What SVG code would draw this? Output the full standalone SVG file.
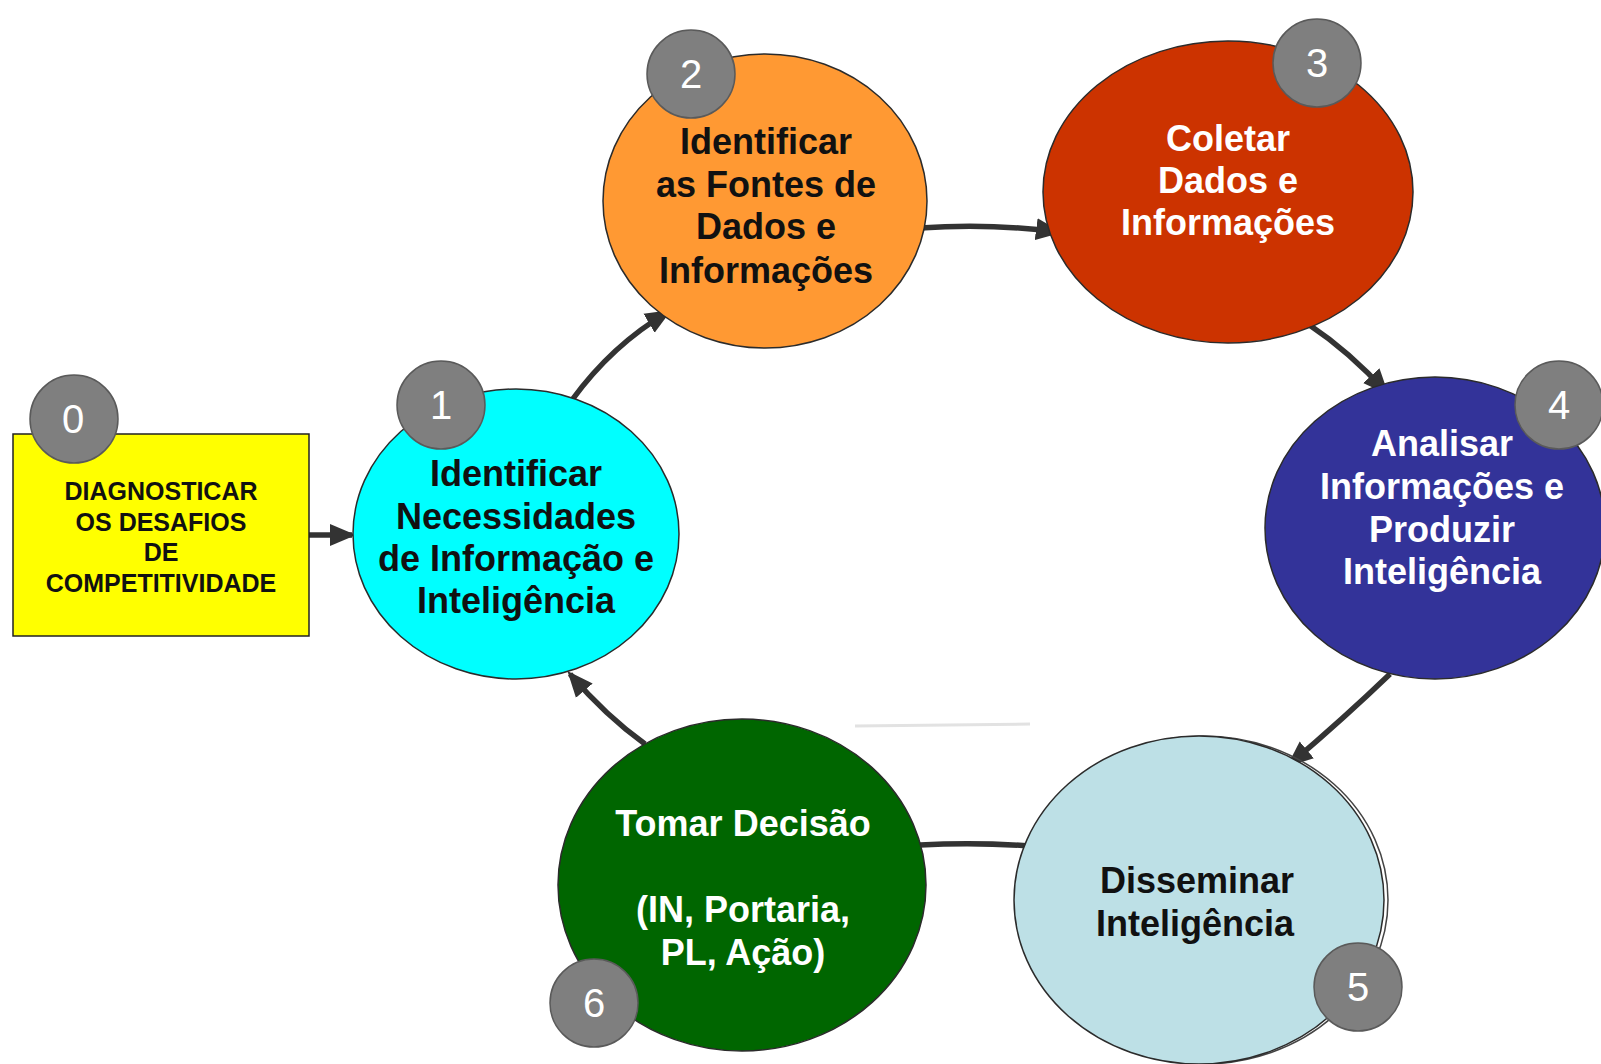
<svg xmlns="http://www.w3.org/2000/svg" width="1601" height="1064" viewBox="0 0 1601 1064">
<style>
.node{stroke:#2b2b2b;stroke-width:1.5}
.badge circle{fill:#7f7f7f;stroke:#5a5a5a;stroke-width:1.5}
.badge text{font-family:"Liberation Sans",Arial,sans-serif;font-size:40px;fill:#ffffff;text-anchor:middle}
.lbl{font-family:"Liberation Sans",Arial,sans-serif;font-weight:bold;font-size:36px;text-anchor:middle}
.box{font-family:"Liberation Sans",Arial,sans-serif;font-weight:bold;font-size:25px;text-anchor:middle;fill:#111}
.con{fill:none;stroke:#333333;stroke-width:5.5}
</style>
<defs>
<marker id="ah" markerUnits="userSpaceOnUse" markerWidth="30" markerHeight="26" refX="22" refY="13" orient="auto">
<path d="M0,2 L26,13 L0,24 Z" fill="#333333"/>
</marker>
</defs>
<rect width="1601" height="1064" fill="#ffffff"/>
<g id="connectors">
<path class="con" d="M309,535 L352,535" marker-end="url(#ah)"/>
<path class="con" d="M572,400 Q612,345 668,312" marker-end="url(#ah)"/>
<path class="con" d="M920,228 Q990,223 1058,232" marker-end="url(#ah)"/>
<path class="con" d="M1308,324 Q1350,352 1386,392" marker-end="url(#ah)"/>
<path class="con" d="M1390,674 Q1342,720 1290,764" marker-end="url(#ah)"/>
<path class="con" d="M1030,846 Q975,842 920,845"/>
<path class="con" d="M645,744 Q606,716 570,674" marker-end="url(#ah)"/>
<path d="M855,726 L1030,724" stroke="#e2e2e2" stroke-width="3" fill="none"/>
</g>
<g id="node0">
<rect x="13" y="434" width="296" height="202" fill="#ffff00" stroke="#222" stroke-width="1.5"/>
<text class="box" x="161" y="500">DIAGNOSTICAR</text>
<text class="box" x="161" y="531">OS DESAFIOS</text>
<text class="box" x="161" y="561">DE</text>
<text class="box" x="161" y="592">COMPETITIVIDADE</text>
<g class="badge"><circle cx="74" cy="419" r="44"/><text x="73" y="433">0</text></g>
</g>
<g id="node1">
<ellipse class="node" cx="516" cy="534" rx="163" ry="145" fill="#00ffff"/>
<text class="lbl" x="516" y="486" fill="#111">Identificar</text>
<text class="lbl" x="516" y="529" fill="#111">Necessidades</text>
<text class="lbl" x="516" y="571" fill="#111">de Informação e</text>
<text class="lbl" x="516" y="613" fill="#111">Inteligência</text>
<g class="badge"><circle cx="441" cy="405" r="44"/><text x="441" y="419">1</text></g>
</g>
<g id="node2">
<ellipse class="node" cx="765" cy="201" rx="162" ry="147" fill="#ff9933"/>
<text class="lbl" x="766" y="154" fill="#111">Identificar</text>
<text class="lbl" x="766" y="197" fill="#111">as Fontes de</text>
<text class="lbl" x="766" y="239" fill="#111">Dados e</text>
<text class="lbl" x="766" y="283" fill="#111">Informações</text>
<g class="badge"><circle cx="691" cy="74" r="44"/><text x="691" y="88">2</text></g>
</g>
<g id="node3">
<ellipse class="node" cx="1228" cy="192" rx="185" ry="151" fill="#cc3300"/>
<text class="lbl" x="1228" y="151" fill="#ffffff">Coletar</text>
<text class="lbl" x="1228" y="193" fill="#ffffff">Dados e</text>
<text class="lbl" x="1228" y="235" fill="#ffffff">Informações</text>
<g class="badge"><circle cx="1317" cy="63" r="44"/><text x="1317" y="77">3</text></g>
</g>
<g id="node4">
<ellipse class="node" cx="1435" cy="528" rx="170" ry="151" fill="#333399"/>
<text class="lbl" x="1442" y="456" fill="#ffffff">Analisar</text>
<text class="lbl" x="1442" y="499" fill="#ffffff">Informações e</text>
<text class="lbl" x="1442" y="542" fill="#ffffff">Produzir</text>
<text class="lbl" x="1442" y="584" fill="#ffffff">Inteligência</text>
<g class="badge"><circle cx="1559" cy="405" r="44"/><text x="1559" y="419">4</text></g>
</g>
<g id="node5">
<ellipse cx="1203" cy="900" rx="185" ry="164" fill="none" stroke="#444" stroke-width="1.5"/>
<ellipse class="node" cx="1199" cy="900" rx="185" ry="164" fill="#bde0e6"/>
<text class="lbl" x="1197" y="893" fill="#111">Disseminar</text>
<text class="lbl" x="1195" y="936" fill="#111">Inteligência</text>
<g class="badge"><circle cx="1358" cy="987" r="44"/><text x="1358" y="1001">5</text></g>
</g>
<g id="node6">
<ellipse class="node" cx="742" cy="885" rx="184" ry="166" fill="#006600"/>
<text class="lbl" x="743" y="836" fill="#ffffff">Tomar Decisão</text>
<text class="lbl" x="743" y="922" fill="#ffffff">(IN, Portaria,</text>
<text class="lbl" x="743" y="965" fill="#ffffff">PL, Ação)</text>
<g class="badge"><circle cx="594" cy="1003" r="44"/><text x="594" y="1017">6</text></g>
</g>
</svg>
